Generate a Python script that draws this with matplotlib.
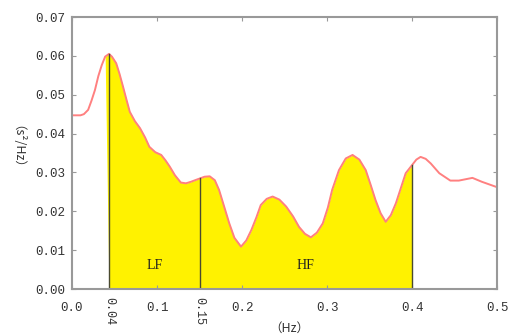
import matplotlib.pyplot as plt

# Espectro de potencia
freq = [0.000, 0.010, 0.014, 0.019, 0.023, 0.027, 0.031, 0.035, 0.039, 0.0435,
        0.047, 0.052, 0.056, 0.060, 0.064, 0.068, 0.074, 0.080, 0.086, 0.091,
        0.098, 0.105, 0.110, 0.115, 0.121, 0.128, 0.134, 0.140, 0.146, 0.151,
        0.156, 0.162, 0.168, 0.173, 0.179, 0.185, 0.191, 0.1988, 0.205, 0.211,
        0.217, 0.222, 0.229, 0.236, 0.244, 0.252, 0.260, 0.267, 0.274, 0.281,
        0.288, 0.295, 0.301, 0.306, 0.314, 0.322, 0.330, 0.338, 0.3455, 0.351,
        0.357, 0.363, 0.369, 0.375, 0.381, 0.3925, 0.400, 0.405, 0.410, 0.416,
        0.422, 0.432, 0.445, 0.455, 0.471, 0.482, 0.500]
psd = [0.0447, 0.0447, 0.0450, 0.0461, 0.0485, 0.0512, 0.0548, 0.0576, 0.0598, 0.0605,
       0.0598, 0.0581, 0.0553, 0.0521, 0.0488, 0.0456, 0.0432, 0.0414, 0.0390, 0.0366,
       0.0352, 0.0345, 0.0331, 0.0315, 0.0293, 0.0274, 0.0272, 0.0276, 0.0281, 0.0285,
       0.0289, 0.0290, 0.0280, 0.0255, 0.0212, 0.0169, 0.0132, 0.0109, 0.0125, 0.0152,
       0.0185, 0.0216, 0.0232, 0.0238, 0.0230, 0.0212, 0.0187, 0.0160, 0.0142, 0.0133,
       0.0145, 0.0169, 0.0210, 0.0255, 0.0306, 0.0336, 0.0345, 0.0333, 0.0306, 0.0270,
       0.0229, 0.0195, 0.0173, 0.0190, 0.0221, 0.0298, 0.0319, 0.0333, 0.0340, 0.0335,
       0.0323, 0.0298, 0.0279, 0.0279, 0.0286, 0.0276, 0.0262]

# Limites das bandas LF e HF
band_edges = [0.0435, 0.15, 0.4]
band_edge_labels = ["0.04", "0.15"]
band_names = ["LF", "HF"]

xticks = [0.0, 0.1, 0.2, 0.3, 0.4, 0.5]
xtick_labels = ["0.0", "0.1", "0.2", "0.3", "0.4", "0.5"]
yticks = [0.00, 0.01, 0.02, 0.03, 0.04, 0.05, 0.06, 0.07]
ytick_labels = ["0.00", "0.01", "0.02", "0.03", "0.04", "0.05", "0.06", "0.07"]

fig = plt.figure(figsize=(5.22, 3.34), dpi=100)
ax = fig.add_axes([0.1379, 0.1347, 0.8144, 0.8144])

lo, hi = band_edges[0], band_edges[-1]
mask = [lo <= f <= hi for f in freq]
ax.fill_between(freq, psd, 0, where=mask, color="#fff200", linewidth=0, interpolate=True)
ax.plot(freq, psd, color="#ff8080", linewidth=1.4, solid_joinstyle="round")

# linhas verticais nos limites das bandas
for e in band_edges:
    i = min(range(len(freq)), key=lambda k: abs(freq[k] - e))
    ax.plot([e, e], [0, psd[i]], color="#4a4a30", linewidth=1.0)

for k, nome in enumerate(band_names):
    xm = (band_edges[k] + band_edges[k + 1]) / 2
    ax.text(xm, 0.006, nome, ha="center", va="center", fontsize=10,
            family="Liberation Serif", color="#202020")

ax.set_xlim(0, 0.5)
ax.set_ylim(0, 0.07)

mono = "Liberation Mono"
ax.set_xticks(xticks)
ax.set_xticklabels(xtick_labels, family=mono, fontsize=9, color="#333333")
ax.set_yticks(yticks)
ax.set_yticklabels(ytick_labels, family=mono, fontsize=9, color="#333333")
ax.set_xticks(band_edges[:2], minor=True)
ax.set_xticklabels(band_edge_labels, minor=True, rotation=-90, family=mono,
                   fontsize=8.5, color="#333333", va="top")
ax.tick_params(which="major", direction="in", length=3, color="#999999",
               top=True, right=True)
ax.tick_params(axis="x", which="major", pad=9)
ax.tick_params(axis="y", which="major", pad=5)
ax.tick_params(which="minor", length=0, pad=6)

for s in ax.spines.values():
    s.set_color("#999999")
    s.set_linewidth(1.5)

cjk = ["Noto Sans CJK SC", "DejaVu Sans"]
ax.set_xlabel("（Hz）", family=cjk, fontsize=9, color="#333333")
ax.xaxis.set_label_coords(0.512, -0.121)
ax.set_ylabel("（s²/Hz）", family=cjk, fontsize=9,
              rotation=-90, color="#333333", va="center", ha="center")
ax.yaxis.set_label_coords(-0.145, 0.5)

fig.savefig("out.png", dpi=100)
